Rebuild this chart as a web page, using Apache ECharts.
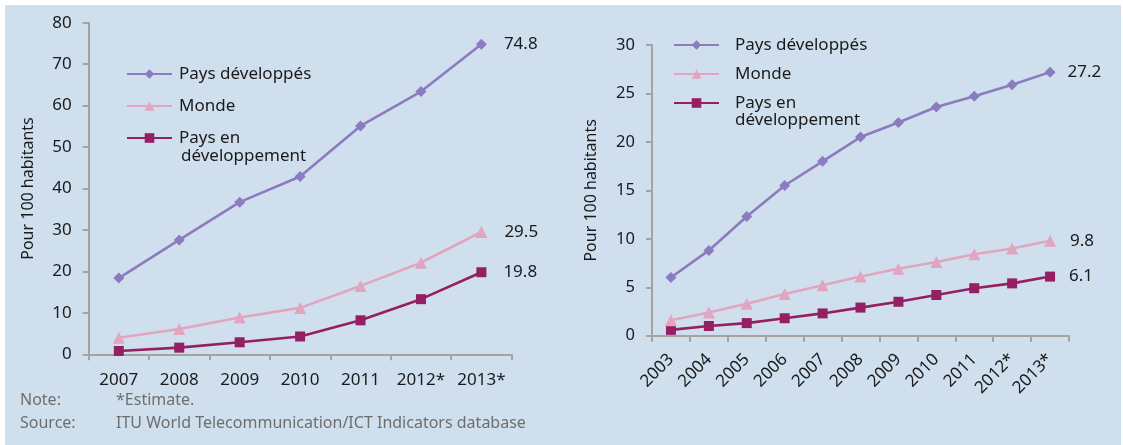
<!DOCTYPE html>
<html><head><meta charset="utf-8">
<script src="https://cdn.jsdelivr.net/npm/echarts@6/dist/echarts.min.js"></script>
<style>
html,body{margin:0;padding:0;background:#fff;}
#bg{position:absolute;left:5px;top:5px;width:1116px;height:440px;background:#cfdfee;}
#chart{position:absolute;left:0;top:0;width:1123px;height:445px;}
</style></head><body>
<div id="bg"></div><div id="chart"></div>
<script>
// Left chart data
const yearsA = ['2007','2008','2009','2010','2011','2012*','2013*'];
const devA   = [18.4, 27.6, 36.7, 42.9, 55.1, 63.4, 74.8];
const worldA = [4.0, 6.1, 8.9, 11.2, 16.5, 22.1, 29.5];
const devgA  = [0.8, 1.6, 2.9, 4.3, 8.2, 13.3, 19.8];
// Right chart data
const yearsB = ['2003','2004','2005','2006','2007','2008','2009','2010','2011','2012*','2013*'];
const devB   = [6.0, 8.8, 12.3, 15.5, 18.0, 20.5, 22.0, 23.6, 24.7, 25.9, 27.2];
const worldB = [1.6, 2.4, 3.3, 4.3, 5.2, 6.1, 6.9, 7.6, 8.4, 9.0, 9.8];
const devgB  = [0.6, 1.0, 1.3, 1.8, 2.3, 2.9, 3.5, 4.2, 4.9, 5.4, 6.1];
const names = ['Pays développés', 'Monde', 'Pays en développement'];
const noteLabel = 'Note:', noteText = '*Estimate.';
const sourceLabel = 'Source:', sourceText = 'ITU World Telecommunication/ICT Indicators database';

const FONT = 'Noto Sans';
const colors = ['#8c7bbf', '#e2a5bf', '#941f63'];
const symbols = ['diamond', 'triangle', 'rect'];
const symSizes = [11, 12, 10];

function withEndLabel(arr, dist) {
  return arr.map((v, i) => i === arr.length - 1 ?
    {value: v, label: {show: true, position: 'right', distance: dist, color: '#1a1a1a', fontSize: 17, fontFamily: FONT}} : v);
}
function mk(idx, arr, axis, dist) {
  return {
    name: names[idx], type: 'line', xAxisIndex: axis, yAxisIndex: axis,
    data: withEndLabel(arr, dist),
    symbol: symbols[idx], symbolSize: symSizes[idx],
    lineStyle: {color: colors[idx], width: 2.6},
    itemStyle: {color: colors[idx]},
    label: {show: false},
    animation: false, z: 3 - idx + 2
  };
}
const axisLineStyle = {show: true, lineStyle: {color: '#a3a3a3', width: 2}};
function xAx(grid, data, rotate, size, margin) {
  return {type: 'category', gridIndex: grid, data: data, boundaryGap: true,
    axisLine: axisLineStyle,
    axisTick: {show: true, length: 6, lineStyle: {color: '#a3a3a3', width: 2}},
    axisLabel: {color: '#1a1a1a', fontSize: size, fontFamily: FONT, rotate: rotate, margin: margin, interval: 0}};
}
function yAx(grid, max, interval, size) {
  return {type: 'value', gridIndex: grid, min: 0, max: max, interval: interval,
    name: 'Pour 100 habitants', nameLocation: 'middle', nameGap: 0,
    nameTextStyle: {color: '#1a1a1a', fontSize: 16, fontFamily: FONT},
    axisLine: axisLineStyle,
    axisTick: {show: true, length: 6, lineStyle: {color: '#a3a3a3', width: 2}},
    splitLine: {show: false},
    axisLabel: {color: '#1a1a1a', fontSize: size, fontFamily: FONT, margin: 17}};
}
const yA = yAx(0, 80, 10, 17); yA.nameGap = 52;
const yB = yAx(1, 30, 5, 16.5); yB.nameGap = 53;

const chart = echarts.init(document.getElementById('chart'));
function legendCfg(left, top, gap, textPad) {
  return {
    orient: 'vertical', left: left, top: top, itemWidth: 45, itemHeight: 12, itemGap: gap,
    data: names, selectedMode: false,
    formatter: n => n === 'Pays en développement' ? 'Pays en' : n,
    textStyle: {color: '#1a1a1a', fontSize: 17, fontFamily: FONT, lineHeight: 20, padding: [0, 0, 0, textPad]}
  };
}
chart.setOption({
  animation: false,
  textStyle: {fontFamily: FONT},
  grid: [
    {left: 88.6, top: 22.7, width: 423, height: 331.6},
    {left: 652, top: 45, width: 417, height: 290.7}
  ],
  legend: [legendCfg(121, 59, 12, 2), legendCfg(668, 30, 9, 11)],
  xAxis: [xAx(0, yearsA, 0, 17, 17), xAx(1, yearsB, 45, 17, 21)],
  yAxis: [yA, yB],
  series: [
    mk(0, devA, 0, 17), mk(1, worldA, 0, 17), mk(2, devgA, 0, 17),
    mk(0, devB, 1, 12), mk(1, worldB, 1, 14), mk(2, devgB, 1, 14)
  ],
  graphic: [
    {type: 'text', left: 181, top: 148, style: {text: 'développement', fill: '#1a1a1a', font: '17px "Noto Sans"'}},
    {type: 'text', left: 735, top: 112, style: {text: 'développement', fill: '#1a1a1a', font: '17px "Noto Sans"'}},
    {type: 'text', left: 20, top: 392, style: {text: noteLabel, fill: '#6e6e6e', font: '16px "Noto Sans"'}},
    {type: 'text', left: 116, top: 392, style: {text: noteText, fill: '#6e6e6e', font: '16px "Noto Sans"'}},
    {type: 'text', left: 20, top: 415, style: {text: sourceLabel, fill: '#6e6e6e', font: '16px "Noto Sans"'}},
    {type: 'text', left: 116, top: 415, style: {text: sourceText, fill: '#6e6e6e', font: '16px "Noto Sans"'}}
  ]
});
</script></body></html>
